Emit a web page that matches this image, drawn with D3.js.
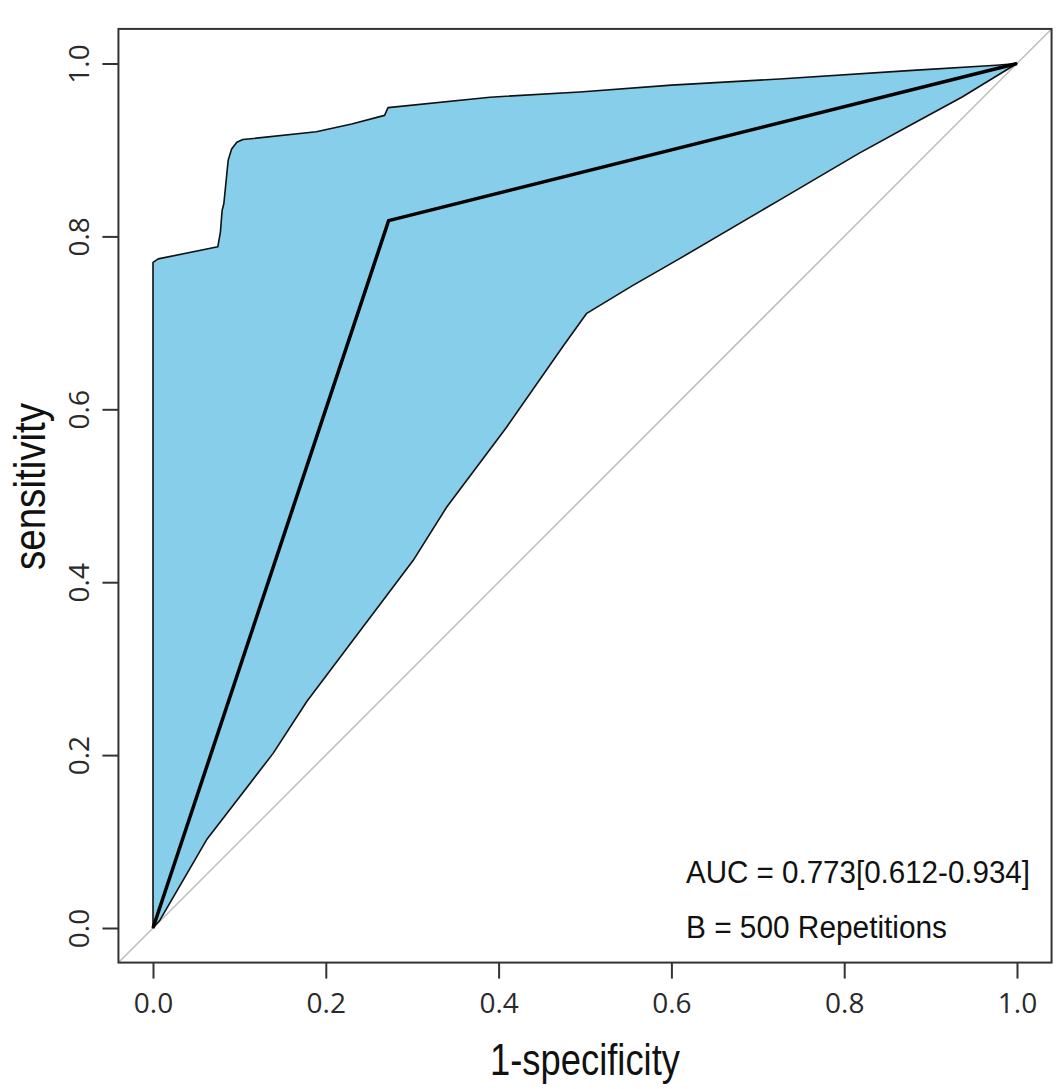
<!DOCTYPE html>
<html>
<head>
<meta charset="utf-8">
<script src="https://cdn.jsdelivr.net/npm/d3@7"></script>
<style>
  body { margin: 0; background: #fff; }
  text { font-family: 'Liberation Sans', Arial, sans-serif; }
  .tick text { font-family: 'Open Sans', 'Liberation Sans', sans-serif; }
</style>
</head>
<body>
<div id="chart"></div>
<script>
// ROC curve (single cut point) and bootstrap CI of the sensitivity
const rocFpr = [0, 0.2727, 1];
const rocSens = [0, 0.8182, 1];

const upperFpr = [0, 0, 0.006, 0.075, 0.078, 0.080, 0.082, 0.087, 0.091, 0.097, 0.104, 0.189, 0.230, 0.268, 0.272, 0.390, 0.494, 0.600, 0.725, 0.879, 0.976, 1];
const upperSens = [0, 0.770, 0.774, 0.788, 0.805, 0.830, 0.838, 0.888, 0.901, 0.909, 0.912, 0.921, 0.930, 0.940, 0.949, 0.961, 0.967, 0.975, 0.982, 0.992, 0.998, 1];

const lowerFpr = [0, 0.008, 0.062, 0.139, 0.178, 0.301, 0.340, 0.409, 0.474, 0.502, 0.555, 0.609, 0.725, 0.817, 0.879, 0.936, 1];
const lowerSens = [0, 0.009, 0.102, 0.202, 0.262, 0.425, 0.487, 0.579, 0.672, 0.711, 0.743, 0.774, 0.842, 0.896, 0.930, 0.961, 1];

const tickValues = [0, 0.2, 0.4, 0.6, 0.8, 1.0];
const xLabel = '1-specificity';
const yLabel = 'sensitivity';
const aucText = 'AUC = 0.773[0.612-0.934]';
const bootText = 'B = 500 Repetitions';

const WIDTH = 1063;
const HEIGHT = 1089;

const svg = d3.select('#chart')
  .append('svg')
  .attr('width', WIDTH)
  .attr('height', HEIGHT);

const xScale = d3.scaleLinear().domain([0, 1]).range([153, 1017]);
const yScale = d3.scaleLinear().domain([0, 1]).range([928, 63.5]);

// plot region is the data range extended by 4% each side (R style)
const x0 = xScale(-0.04), x1 = xScale(1.04);
const y0 = yScale(-0.04), y1 = yScale(1.04);

svg.append('clipPath')
  .attr('id', 'plot-clip')
  .append('rect')
  .attr('x', x0).attr('y', y1)
  .attr('width', x1 - x0).attr('height', y0 - y1);

// identity line
svg.append('line')
  .attr('clip-path', 'url(#plot-clip)')
  .attr('x1', xScale(-0.04)).attr('y1', yScale(-0.04))
  .attr('x2', xScale(1.04)).attr('y2', yScale(1.04))
  .attr('stroke', '#bdbdbd')
  .attr('stroke-width', 1.5);

// confidence band polygon: upper edge left to right, lower edge back
const upperPts = upperFpr.map((f, i) => [f, upperSens[i]]);
const lowerPts = lowerFpr.map((f, i) => [f, lowerSens[i]]).reverse();
const bandLine = d3.line().x((d) => xScale(d[0])).y((d) => yScale(d[1]));

svg.append('path')
  .attr('d', bandLine(upperPts.concat(lowerPts)) + 'Z')
  .attr('fill', '#87CEEB')
  .attr('stroke', '#111')
  .attr('stroke-width', 1.6)
  .attr('stroke-linejoin', 'round');

svg.append('path')
  .attr('d', bandLine(rocFpr.map((f, i) => [f, rocSens[i]])))
  .attr('fill', 'none')
  .attr('stroke', '#000')
  .attr('stroke-width', 3.5)
  .attr('stroke-linejoin', 'miter');

// axes
const fmt = d3.format('.1f');
const xAxis = svg.append('g')
  .attr('transform', `translate(0, ${y0})`)
  .call(d3.axisBottom(xScale).tickValues(tickValues).tickFormat(fmt).tickSize(16));
xAxis.select('.domain').remove();
xAxis.selectAll('.tick line').attr('stroke', '#333').attr('stroke-width', 2);
xAxis.selectAll('.tick text')
  .attr('y', 50).attr('dy', 0)
  .attr('fill', '#2a2a2a')
  .style('font-size', '28px');

const yAxis = svg.append('g')
  .attr('transform', `translate(${x0}, 0)`)
  .call(d3.axisLeft(yScale).tickValues(tickValues).tickFormat(fmt).tickSize(16));
yAxis.select('.domain').remove();
yAxis.selectAll('.tick line').attr('stroke', '#333').attr('stroke-width', 2);
yAxis.selectAll('.tick text')
  .attr('x', 0).attr('dy', 0)
  .attr('text-anchor', 'middle')
  .attr('transform', 'translate(-29, 0) rotate(-90)')
  .attr('fill', '#2a2a2a')
  .style('font-size', '28px');

// frame
svg.append('rect')
  .attr('x', x0).attr('y', y1)
  .attr('width', x1 - x0).attr('height', y0 - y1)
  .attr('fill', 'none')
  .attr('stroke', '#333')
  .attr('stroke-width', 2);

// labels
svg.append('text')
  .attr('x', (x0 + x1) / 2 - 95)
  .attr('y', 1075)
  .attr('textLength', 190)
  .attr('lengthAdjust', 'spacingAndGlyphs')
  .style('font-size', '44px')
  .attr('fill', '#111')
  .text(xLabel);

svg.append('text')
  .attr('transform', `translate(45, ${487 + 83}) rotate(-90)`)
  .attr('textLength', 167)
  .attr('lengthAdjust', 'spacingAndGlyphs')
  .style('font-size', '44px')
  .attr('fill', '#111')
  .text(yLabel);

svg.append('text')
  .attr('x', 686).attr('y', 883)
  .attr('textLength', 344)
  .attr('lengthAdjust', 'spacingAndGlyphs')
  .style('font-size', '31px')
  .attr('fill', '#111')
  .text(aucText);

svg.append('text')
  .attr('x', 686).attr('y', 938)
  .attr('textLength', 261)
  .attr('lengthAdjust', 'spacingAndGlyphs')
  .style('font-size', '31px')
  .attr('fill', '#111')
  .text(bootText);
</script>
</body>
</html>
